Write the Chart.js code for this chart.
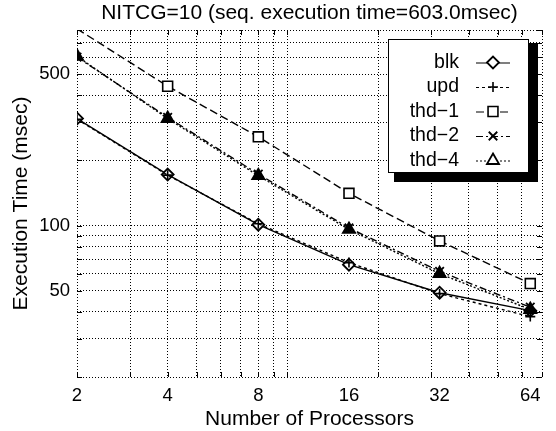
<!DOCTYPE html>
<html>
<head>
<meta charset="utf-8">
<script src="https://cdn.jsdelivr.net/npm/chart.js@4.4.1/dist/chart.umd.min.js"></script>
<style>
  html, body { margin: 0; padding: 0; background: #fff; }
  canvas { display: block; }
</style>
</head>
<body>
<canvas id="timeChart" width="556" height="431"></canvas>
<script>
// execution time (msec) per number of processors
const procs = [2, 4, 8, 16, 32, 64];
const blk  = [312, 172, 101, 66, 49, 40.5];
const upd  = [310, 171, 102, 67.5, 48.5, 38];
const thd1 = [810, 440, 257, 141, 85, 54];
const thd2 = [600, 316, 173, 97.5, 61.5, 42];
const thd4 = [605, 312, 170, 96, 60, 41];

const seriesNames = ['blk', 'upd', 'thd\u22121', 'thd\u22122', 'thd\u22124'];

// grid lines (log decades) and the labelled ticks
const xGrid = [2, 3, 4, 5, 6, 7, 8, 9, 10, 20, 30, 40, 50, 60, 70];
const xLabels = [2, 4, 8, 16, 32, 64];
const yGrid = [20, 30, 40, 50, 60, 70, 80, 90, 100, 200, 300, 400, 500, 600, 700, 800];
const yLabels = [50, 100, 500];

const X_MIN = 2, X_MAX = 70, Y_MIN = 20, Y_MAX = 800;
const FONT = '"Liberation Sans", Arial, Helvetica, sans-serif';

Chart.defaults.font.family = FONT;
Chart.defaults.color = '#000';

const xTicks = Array.from(new Set([...xGrid, ...xLabels])).sort((a, b) => a - b);

const toPoints = vals => procs.map((p, i) => ({ x: p, y: vals[i] }));

// hide markers that fall outside the y range
const markerSize = r => ctx => (ctx.raw && ctx.raw.y > Y_MAX ? 0 : r);

const lineStyles = [
  { data: blk,  dash: [],           style: 'rectRot',  radius: 6, bw: 1.8, fill: '#fff' },
  { data: upd,  dash: [3, 3],       style: 'cross',    radius: 5, bw: 1.6, fill: '#fff' },
  { data: thd1, dash: [8, 4],       style: 'rect',     radius: 7, bw: 1.6, fill: '#fff' },
  { data: thd2, dash: [7, 3, 2, 3], style: 'crossRot', radius: 6, bw: 1.8, fill: '#fff' },
  { data: thd4, dash: [2, 2],       style: 'triangle', radius: 7, bw: 1.8, fill: '#000' }
];

const datasets = lineStyles.map((s, i) => ({
  label: seriesNames[i],
  data: toPoints(s.data),
  borderColor: '#000',
  borderWidth: 1.4,
  borderDash: s.dash,
  tension: 0,
  pointStyle: s.style,
  pointRadius: markerSize(s.radius),
  pointBorderWidth: s.bw,
  pointBorderColor: '#000',
  pointBackgroundColor: s.fill,
  order: 4 - i
}));

// short solid ticks pointing into the plot box
const frameTicks = {
  id: 'frameTicks',
  beforeDatasetsDraw(chart) {
    const { ctx, chartArea: a, scales: { x, y } } = chart;
    ctx.save();
    ctx.strokeStyle = '#000';
    ctx.lineWidth = 1;
    ctx.beginPath();
    xGrid.forEach(v => {
      const px = Math.round(x.getPixelForValue(v)) + 0.5;
      ctx.moveTo(px, a.bottom); ctx.lineTo(px, a.bottom - 5);
      ctx.moveTo(px, a.top); ctx.lineTo(px, a.top + 5);
    });
    yGrid.forEach(v => {
      const py = Math.round(y.getPixelForValue(v)) + 0.5;
      ctx.moveTo(a.left, py); ctx.lineTo(a.left + 5, py);
      ctx.moveTo(a.right, py); ctx.lineTo(a.right - 5, py);
    });
    ctx.stroke();
    ctx.restore();
  }
};

// legend markers are drawn open
function drawMarker(ctx, i, cx, cy) {
  const s = lineStyles[i];
  ctx.setLineDash([]);
  ctx.lineWidth = s.bw;
  ctx.fillStyle = '#fff';
  ctx.strokeStyle = '#000';
  Chart.helpers.drawPoint(ctx, { pointStyle: s.style, radius: s.radius, rotation: 0, borderWidth: s.bw }, cx, cy);
}

// boxed legend with a drop shadow, labels to the left of the line sample
const boxLegend = {
  id: 'boxLegend',
  afterDraw(chart) {
    const { ctx, chartArea: a } = chart;
    const w = 141, h = 134;
    const x0 = a.right - 154, y0 = a.top + 9;
    ctx.save();
    ctx.fillStyle = '#000';
    ctx.fillRect(x0 + w, y0 + 4, 9, h + 5);
    ctx.fillRect(x0 + 6, y0 + h, w + 3, 9);
    ctx.fillStyle = '#fff';
    ctx.fillRect(x0, y0, w, h);
    ctx.strokeStyle = '#000';
    ctx.lineWidth = 1;
    ctx.strokeRect(x0 + 0.5, y0 + 0.5, w - 1, h - 1);

    ctx.font = '19.5px ' + FONT;
    ctx.textAlign = 'right';
    ctx.textBaseline = 'middle';
    chart.data.datasets.forEach((ds, i) => {
      const cy = y0 + 23.5 + i * 24.5;
      ctx.fillStyle = '#000';
      ctx.fillText(ds.label, x0 + 71, cy);
      ctx.strokeStyle = '#000';
      ctx.lineWidth = 1.2;
      ctx.setLineDash(ds.borderDash);
      ctx.beginPath();
      ctx.moveTo(x0 + 88, cy + 0.5);
      ctx.lineTo(x0 + 122, cy + 0.5);
      ctx.stroke();
      drawMarker(ctx, i, x0 + 105, cy);
    });
    ctx.restore();
  }
};

new Chart(document.getElementById('timeChart'), {
  type: 'line',
  data: { datasets },
  plugins: [frameTicks, boxLegend],
  options: {
    responsive: false,
    animation: false,
    devicePixelRatio: 1,
    layout: { padding: { left: 0, right: 14, top: 0, bottom: 0 } },
    plugins: {
      legend: { display: false },
      tooltip: { enabled: false },
      title: {
        display: true,
        fullSize: false,
        text: 'NITCG=10 (seq. execution time=603.0msec)',
        color: '#000',
        font: { size: 21, weight: 'normal', lineHeight: 1 },
        padding: { top: 3, bottom: 6 }
      }
    },
    scales: {
      x: {
        type: 'logarithmic',
        min: X_MIN,
        max: X_MAX,
        afterBuildTicks: s => { s.ticks = xTicks.map(v => ({ value: v })); },
        afterFit: s => { s.height = 54; },
        grid: {
          color: c => (c.tick && xGrid.includes(c.tick.value) ? '#000' : 'rgba(0,0,0,0)'),
          lineWidth: 1,
          drawTicks: false
        },
        border: { display: false, dash: [1, 2] },
        ticks: {
          autoSkip: false,
          maxRotation: 0,
          padding: 10,
          color: '#000',
          font: { size: 18.5, lineHeight: 1 },
          callback: v => (xLabels.includes(v) ? String(v) : '')
        },
        title: {
          display: true,
          text: 'Number of Processors',
          color: '#000',
          font: { size: 21, lineHeight: 1 },
          padding: { top: 0, bottom: 1 }
        }
      },
      y: {
        type: 'logarithmic',
        min: Y_MIN,
        max: Y_MAX,
        afterBuildTicks: s => { s.ticks = yGrid.map(v => ({ value: v })); },
        afterFit: s => { s.width = 77; },
        grid: { color: '#000', lineWidth: 1, drawTicks: false },
        border: { display: false, dash: [1, 2] },
        ticks: {
          autoSkip: false,
          padding: 7,
          color: '#000',
          font: { size: 18.5, lineHeight: 1 },
          callback: v => (yLabels.includes(v) ? String(v) : '')
        },
        title: {
          display: true,
          text: 'Execution Time (msec)',
          color: '#000',
          font: { size: 21, lineHeight: 1 },
          padding: { top: 11, bottom: 0 }
        }
      }
    }
  }
});
</script>
</body>
</html>
